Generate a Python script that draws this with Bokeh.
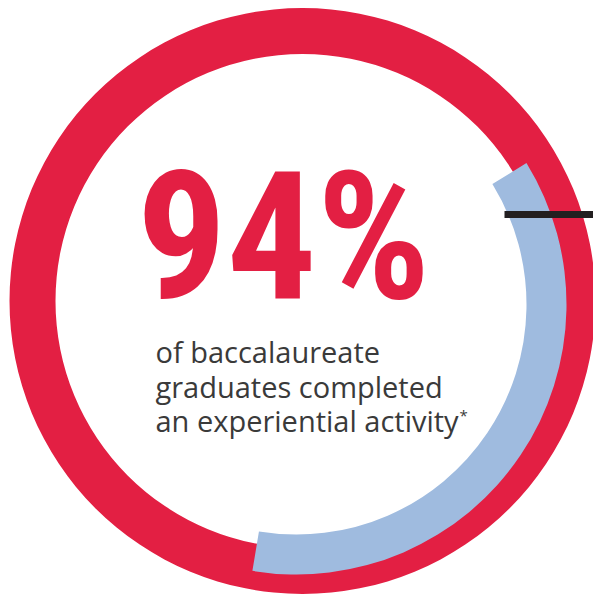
from bokeh.plotting import figure
from bokeh.models import Range1d
from bokeh.embed import file_html
from bokeh.resources import INLINE
from bokeh.core.properties import value
import math

# ---- data ----
headline = ["94%"]
caption_lines = ["of baccalaureate", "graduates completed", "an experiential activity"]
footnote_mark = ["*"]
# blue arc extent (degrees, counter-clockwise from 3 o'clock)
arc_start_deg = [-99.4]
arc_end_deg = [31.6]

RED = "#E31F43"
BLUE = "#9FBBDF"
DARK = "#231F20"
TEXT = "#3A3A3A"

W, H = 593, 596  # data x = pixel x; data y = H - pixel y

p = figure(frame_width=W, frame_height=H,
           output_backend="svg", toolbar_location=None,
           x_range=Range1d(0, W), y_range=Range1d(0, H),
           x_axis_type=None, y_axis_type=None,
           min_border=0, min_border_left=0, min_border_right=0,
           min_border_top=0, min_border_bottom=0)
p.grid.visible = False
p.outline_line_color = None
p.background_fill_color = "white"
p.border_fill_color = "white"

# red full ring
p.annulus(x=[302], y=[H - 300.5], inner_radius=247, outer_radius=293,
          fill_color=RED, line_color=None)

# blue arc
p.annular_wedge(x=[296], y=[H - 304], inner_radius=230, outer_radius=270,
                start_angle=[math.radians(a) for a in arc_start_deg],
                end_angle=[math.radians(a) for a in arc_end_deg],
                fill_color=BLUE, line_color=None)

# black tick line
p.segment(x0=[504], y0=[H - 214], x1=[620], y1=[H - 214],
          line_color=DARK, line_width=7)

# headline
p.text(x=[283], y=[H - 236], text=headline, text_color=RED,
       text_font=value("Roboto Condensed, DejaVu Sans Condensed, Liberation Sans Narrow, sans-serif"),
       text_font_style="bold",
       text_font_size="178px", text_align="center", text_baseline="alphabetic")

# caption
p.text(x=[155] * 3, y=[H - 351, H - 386, H - 420], text=caption_lines,
       text_color=TEXT, text_font=value("Open Sans"), text_font_size="29px",
       text_align="left", text_baseline="alphabetic")
p.text(x=[459], y=[H - 414], text=footnote_mark, text_color=TEXT,
       text_font=value("Open Sans"), text_font_size="15px",
       text_align="left", text_baseline="alphabetic")

open("out.html", "w").write(file_html(p, INLINE))
